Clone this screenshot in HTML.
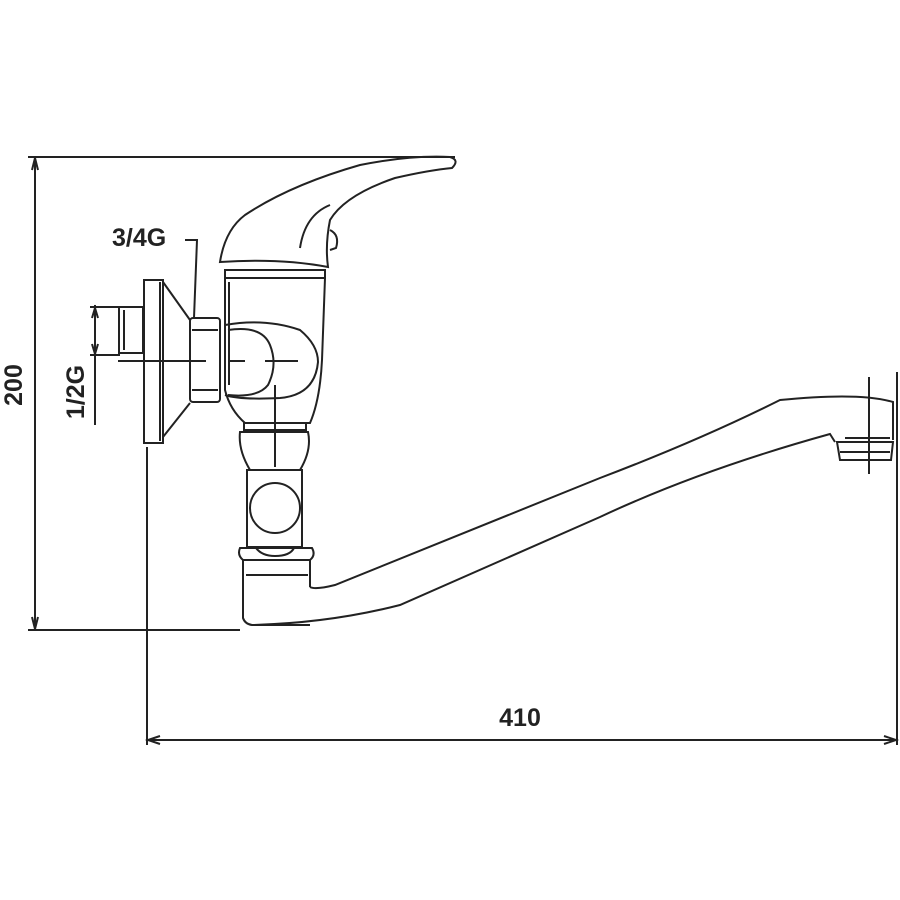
<!DOCTYPE html>
<html><head><style>html,body{margin:0;padding:0;background:#fff}svg{display:block}</style></head><body>
<svg width="900" height="900" viewBox="0 0 900 900" xmlns="http://www.w3.org/2000/svg" font-family="Liberation Sans, Arial, sans-serif">
<rect width="900" height="900" fill="#fff"/>
<g fill="none" stroke="#222" stroke-width="2">
<!-- dimension 200 -->
<line x1="28" y1="157" x2="455" y2="157"/>
<line x1="28" y1="630" x2="240" y2="630"/>
<line x1="35" y1="160" x2="35" y2="627"/>
<path d="M32 170 L35 158 L38 170 M32 617 L35 629 L38 617"/>
<!-- dimension 410 -->
<line x1="147" y1="447" x2="147" y2="745"/>
<line x1="897" y1="372" x2="897" y2="745"/>
<line x1="147" y1="740" x2="897" y2="740"/>
<path d="M160 736 L148 740 L160 744 M884 736 L896 740 L884 744"/>
<!-- 1/2G dim -->
<line x1="95" y1="305" x2="95" y2="425"/>
<line x1="90" y1="307" x2="118" y2="307"/>
<line x1="90" y1="355" x2="120" y2="355"/>
<path d="M92 318 L95 308 L98 318 M92 344 L95 354 L98 344"/>
<!-- 3/4G leader -->
<path d="M185 240 L197 240 L194 318"/>
<!-- pipe stub -->
<rect x="119" y="307" width="24" height="46"/>
<line x1="124" y1="310" x2="124" y2="350"/>
<!-- escutcheon -->
<rect x="144" y="280" width="19" height="163"/>
<line x1="160" y1="282" x2="160" y2="441"/>
<path d="M163 282 L190 320 M163 437 L190 403"/>
<!-- nut -->
<rect x="190" y="318" width="30" height="84" rx="3"/>
<line x1="192" y1="330" x2="218" y2="330"/>
<line x1="192" y1="390" x2="218" y2="390"/>
<!-- centerline -->
<path d="M118 361 L206 361 M228 361 L245 361 M265 361 L298 361" />
<line x1="275" y1="385" x2="275" y2="467"/>
<!-- body -->
<path d="M225 270 L325 270 L325 278 L225 278 Z"/>
<path d="M225 278 L225 390 Q230 410 245 423 L310 423 Q320 400 322 360 L325 278"/>
<line x1="229" y1="282" x2="229" y2="385"/>
<path d="M225 325 Q265 318 300 330 Q318 345 318 362 Q315 395 280 398 Q240 400 225 395"/>
<path d="M228 330 Q262 325 270 345 Q278 365 268 385 Q258 398 228 395"/>
<!-- handle -->
<path d="M220 262 Q225 230 245 215 Q290 185 360 165 Q410 155 450 157 Q460 160 452 168 Q430 170 395 178 Q345 195 330 220 Q325 245 328 267 Q280 258 220 262 Z"/>
<path d="M300 248 Q305 215 330 205"/>
<path d="M330 230 Q340 235 336 248 L330 250"/>
<!-- collar -->
<path d="M244 423 L306 423 L306 430 L244 430 Z"/>
<path d="M240 432 L308 432 Q312 450 300 470 L250 470 Q238 450 240 432 Z"/>
<!-- ball section -->
<rect x="247" y="470" width="55" height="77"/>
<circle cx="275" cy="508" r="25"/>
<!-- ring -->
<path d="M240 548 Q237 555 243 560 L310 560 Q316 555 312 548 Z"/>
<path d="M256 548 Q262 556 275 556 Q290 556 294 548"/>
<!-- base -->
<path d="M243 560 L243 618 Q245 624 252 625 L310 625"/>
<line x1="246" y1="575" x2="308" y2="575"/>
<line x1="310" y1="560" x2="310" y2="587"/>
<!-- spout -->
<path d="M310 587 Q315 590 335 585 L600 478 Q700 440 780 400 Q860 392 893 402 L893 440"/>
<path d="M252 625 Q330 623 400 605 L600 517 Q700 470 830 434 L835 442"/>
<path d="M837 442 L893 442 L891 460 L840 460 Z"/>
<line x1="840" y1="452" x2="890" y2="452"/>
<line x1="869" y1="377" x2="869" y2="474"/>
<line x1="845" y1="438" x2="890" y2="438"/>
</g>
<g fill="#222" font-weight="bold" font-size="25">
<text x="112" y="246">3/4G</text>
<text x="520" y="726" text-anchor="middle">410</text>
<text transform="translate(22,385) rotate(-90)" text-anchor="middle">200</text>
<text transform="translate(84,392) rotate(-90)" text-anchor="middle">1/2G</text>
</g>
</svg>
</body></html>
